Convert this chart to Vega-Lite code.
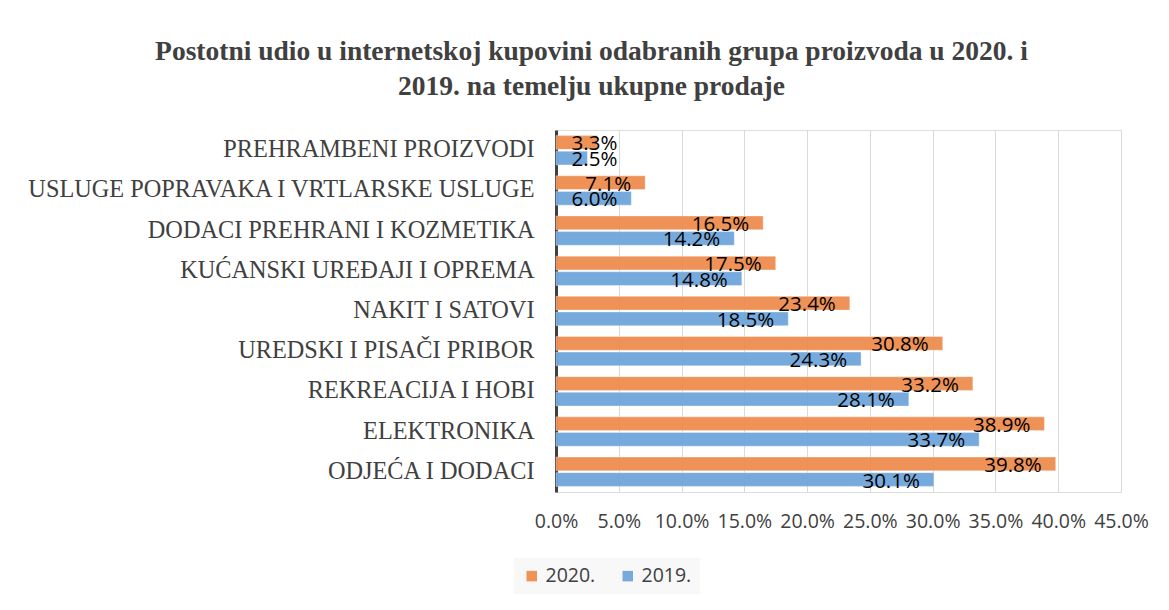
{
  "$schema": "https://vega.github.io/schema/vega-lite/v6.json",
  "autosize": {"type": "none"},
  "width": 565,
  "height": 362,
  "padding": {"left": 556, "top": 130, "right": 48, "bottom": 118},
  "background": "white",
  "title": {
    "text": ["Postotni udio u internetskoj kupovini odabranih grupa proizvoda u 2020. i", "2019. na temelju ukupne prodaje"],
    "font": "Liberation Serif",
    "fontSize": 27.5,
    "fontWeight": "bold",
    "color": "#404040",
    "lineHeight": 35,
    "anchor": "middle",
    "dx": -247,
    "offset": 30
  },
  "data": {
    "values": [
      {"cat": "PREHRAMBENI PROIZVODI", "year": "2020.", "value": 3.3},
      {"cat": "PREHRAMBENI PROIZVODI", "year": "2019.", "value": 2.5},
      {"cat": "USLUGE POPRAVAKA I VRTLARSKE USLUGE", "year": "2020.", "value": 7.1},
      {"cat": "USLUGE POPRAVAKA I VRTLARSKE USLUGE", "year": "2019.", "value": 6.0},
      {"cat": "DODACI PREHRANI I KOZMETIKA", "year": "2020.", "value": 16.5},
      {"cat": "DODACI PREHRANI I KOZMETIKA", "year": "2019.", "value": 14.2},
      {"cat": "KUĆANSKI UREĐAJI I OPREMA", "year": "2020.", "value": 17.5},
      {"cat": "KUĆANSKI UREĐAJI I OPREMA", "year": "2019.", "value": 14.8},
      {"cat": "NAKIT I SATOVI", "year": "2020.", "value": 23.4},
      {"cat": "NAKIT I SATOVI", "year": "2019.", "value": 18.5},
      {"cat": "UREDSKI I PISAČI PRIBOR", "year": "2020.", "value": 30.8},
      {"cat": "UREDSKI I PISAČI PRIBOR", "year": "2019.", "value": 24.3},
      {"cat": "REKREACIJA I HOBI", "year": "2020.", "value": 33.2},
      {"cat": "REKREACIJA I HOBI", "year": "2019.", "value": 28.1},
      {"cat": "ELEKTRONIKA", "year": "2020.", "value": 38.9},
      {"cat": "ELEKTRONIKA", "year": "2019.", "value": 33.7},
      {"cat": "ODJEĆA I DODACI", "year": "2020.", "value": 39.8},
      {"cat": "ODJEĆA I DODACI", "year": "2019.", "value": 30.1}
    ]
  },
  "encoding": {
    "y": {
      "field": "cat",
      "type": "nominal",
      "sort": ["PREHRAMBENI PROIZVODI", "USLUGE POPRAVAKA I VRTLARSKE USLUGE", "DODACI PREHRANI I KOZMETIKA", "KUĆANSKI UREĐAJI I OPREMA", "NAKIT I SATOVI", "UREDSKI I PISAČI PRIBOR", "REKREACIJA I HOBI", "ELEKTRONIKA", "ODJEĆA I DODACI"],
      "scale": {"paddingInner": 0.27, "paddingOuter": 0.14},
      "axis": {
        "title": null,
        "ticks": false,
        "labelFont": "Liberation Serif",
        "labelFontSize": 24.3,
        "labelColor": "#404040",
        "labelPadding": 22,
        "labelLimit": 0,
        "domainColor": "#404040",
        "domainWidth": 3,
        "grid": false
      }
    },
    "yOffset": {
      "field": "year",
      "type": "nominal",
      "sort": ["2020.", "2019."],
      "scale": {"paddingInner": 0.12}
    }
  },
  "layer": [
    {
      "mark": {"type": "bar", "opacity": 0.95, "stroke": "white", "strokeOpacity": 0.35, "strokeWidth": 1},
      "encoding": {
        "x": {
          "field": "value",
          "type": "quantitative",
          "scale": {"domain": [0, 45]},
          "axis": {
            "title": null,
            "values": [0, 5, 10, 15, 20, 25, 30, 35, 40, 45],
            "labelExpr": "format(datum.value, '.1f') + '%'",
            "labelFont": "Open Sans",
            "labelFontSize": 19.5,
            "labelColor": "#404040",
            "labelPadding": 20,
            "labelOverlap": false,
            "labelFlush": false,
            "ticks": false,
            "domain": false,
            "grid": true,
            "gridColor": "#d9d9d9",
            "gridWidth": 1
          }
        },
        "color": {
          "field": "year",
          "type": "nominal",
          "sort": ["2020.", "2019."],
          "scale": {"domain": ["2020.", "2019."], "range": ["#EE8D4F", "#70A6DB"]},
          "legend": {
            "title": null,
            "orient": "none",
            "direction": "horizontal",
            "legendX": -42,
            "legendY": 428,
            "symbolType": "square",
            "symbolSize": 110,
            "symbolStrokeWidth": 0,
            "labelFont": "Open Sans",
            "labelFontSize": 19.5,
            "labelColor": "#404040",
            "columnPadding": 22,
            "fillColor": "#f8f8f8",
            "padding": 8
          }
        }
      }
    },
    {
      "transform": [
        {"calculate": "format(datum.value, '.1f') + '%'", "as": "lbl"},
        {"calculate": "max(datum.value, 6.0)", "as": "labelPos"}
      ],
      "mark": {"type": "text", "align": "right", "baseline": "middle", "dx": -14, "dy": 2, "font": "Open Sans", "fontSize": 20.5, "color": "#000000"},
      "encoding": {
        "x": {"field": "labelPos", "type": "quantitative"},
        "text": {"field": "lbl", "type": "nominal"},
        "detail": {"field": "year"}
      }
    }
  ]
}
